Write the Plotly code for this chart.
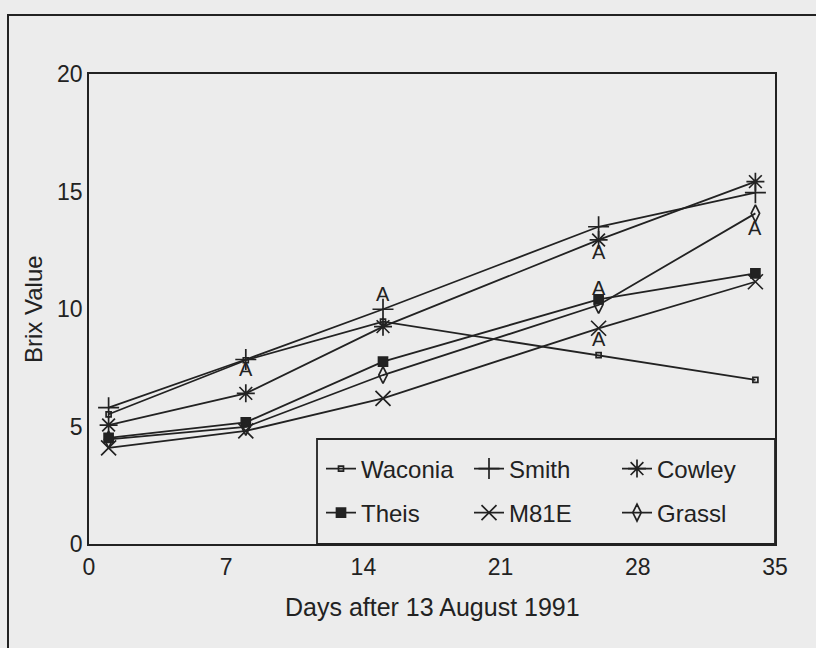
import plotly.graph_objects as go

# ---- data ----
days = [1, 8, 15, 26, 34]
waconia = [5.52, 7.82, 9.46, 8.04, 6.98]
smith = [5.80, 7.85, 9.99, 13.50, 14.95]
cowley = [5.06, 6.41, 9.25, 12.94, 15.42]
theis = [4.52, 5.18, 7.76, 10.41, 11.52]
m81e = [4.09, 4.81, 6.20, 9.18, 11.16]
grassl = [4.45, 4.98, 7.19, 10.17, 14.07]

series_names = ["Waconia", "Smith", "Cowley", "Theis", "M81E", "Grassl"]
series_vals = [waconia, smith, cowley, theis, m81e, grassl]

# significance letters ("A") placed near points
sig_x = [8, 15, 26, 26, 26, 34]
sig_y = [7.45, 10.64, 12.43, 10.91, 8.72, 13.43]
sig_text = ["A", "A", "A", "A", "A", "A"]

x_ticks = [0, 7, 14, 21, 28, 35]
y_ticks = [0, 5, 10, 15, 20]

# ---- styling ----
BG = "#ececec"
INK = "#222222"
FONT = "Liberation Sans, Arial, sans-serif"

styles = {
    "Waconia": dict(symbol="square-open", size=5),
    "Smith": dict(symbol="cross-thin-open", size=15),
    "Cowley": dict(symbol="asterisk-open", size=15),
    "Theis": dict(symbol="square", size=9),
    "M81E": dict(symbol="x-thin-open", size=15),
    "Grassl": dict(symbol="diamond-tall-open", size=12),
}
legend_of = {"Waconia": "legend", "Smith": "legend", "Cowley": "legend",
             "Theis": "legend2", "M81E": "legend2", "Grassl": "legend2"}

fig = go.Figure()
for name, vals in zip(series_names, series_vals):
    st = styles[name]
    fig.add_trace(go.Scatter(
        x=days, y=vals, name=name, mode="lines+markers",
        line=dict(color=INK, width=1.8),
        marker=dict(symbol=st["symbol"], size=st["size"], color=INK,
                    line=dict(color=INK, width=1.7)),
        legend=legend_of[name],
    ))

for sx, sy, t in zip(sig_x, sig_y, sig_text):
    fig.add_annotation(x=sx, y=sy, text=t, showarrow=False,
                       font=dict(family=FONT, size=20, color=INK))

W, H = 816, 648
L, R, T, B = 89, 41, 74, 104
pw, ph = W - L - R, H - T - B


def px(xp):
    return (xp - L) / pw


def py(yp):
    return (H - B - yp) / ph


legend_common = dict(
    orientation="h", xanchor="left", yanchor="middle",
    bgcolor="rgba(0,0,0,0)", borderwidth=0,
    entrywidth=103, entrywidthmode="pixels",
    font=dict(family=FONT, size=24, color=INK),
    itemsizing="trace",
)

fig.update_layout(
    width=W, height=H,
    margin=dict(l=L, r=R, t=T, b=B),
    paper_bgcolor=BG, plot_bgcolor=BG,
    font=dict(family=FONT, size=23, color=INK),
    showlegend=True,
    legend=dict(x=px(321), y=py(469), **legend_common),
    legend2=dict(x=px(321), y=py(513), **legend_common),
    xaxis=dict(range=[0, 35], tickvals=x_ticks, ticktext=[str(v) for v in x_ticks],
               showgrid=False, zeroline=False, showline=True, mirror=True,
               linecolor=INK, linewidth=1.8, ticks="", ticklabelstandoff=1,
               tickfont=dict(family=FONT, size=23, color=INK)),
    yaxis=dict(range=[0, 20], tickvals=y_ticks, ticktext=[str(v) for v in y_ticks],
               showgrid=False, zeroline=False, showline=True, mirror=True,
               linecolor=INK, linewidth=1.8, ticks="", ticklabelstandoff=0,
               tickfont=dict(family=FONT, size=23, color=INK)),
    shapes=[
        # legend box
        dict(type="rect", xref="paper", yref="paper",
             x0=px(317), x1=1.0, y0=0, y1=py(439),
             line=dict(color=INK, width=1.8), fillcolor="rgba(0,0,0,0)"),
        # outer frame
        dict(type="rect", xref="paper", yref="paper",
             x0=px(8), x1=px(830), y0=py(660), y1=py(15),
             line=dict(color=INK, width=2), fillcolor="rgba(0,0,0,0)"),
    ],
)

fig.add_annotation(xref="paper", yref="paper", x=0.5, y=py(607),
                   text="Days after 13 August 1991", showarrow=False,
                   xanchor="center", yanchor="middle",
                   font=dict(family=FONT, size=25, color=INK))
fig.add_annotation(xref="paper", yref="paper", x=px(33), y=0.5,
                   text="Brix Value", showarrow=False, textangle=-90,
                   xanchor="center", yanchor="middle",
                   font=dict(family=FONT, size=24, color=INK))

fig.write_html("out.html",
               config={"displayModeBar": False},
               post_script="document.body.style.margin='0';document.body.style.overflow='hidden';")
